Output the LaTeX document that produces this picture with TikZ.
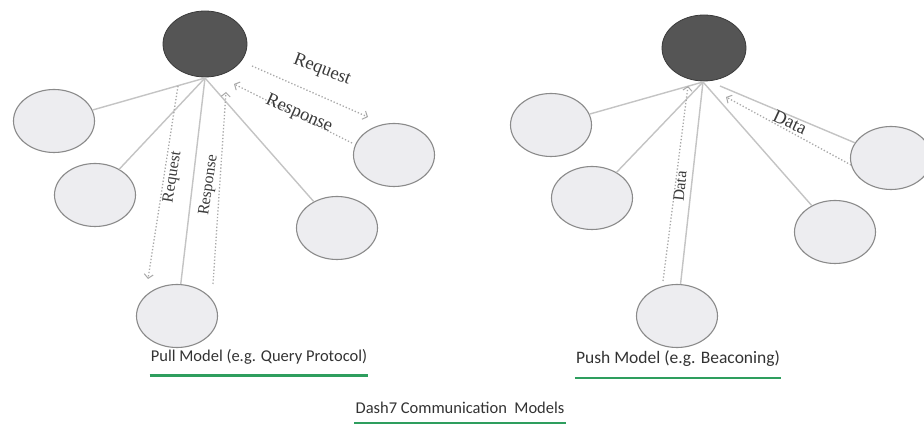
\documentclass[tikz,border=0pt]{standalone}
\usepackage{fontspec}
\setmainfont{Carlito}
\newfontfamily\lblfont{Liberation Serif}
\usetikzlibrary{shapes.geometric,arrows.meta}
\definecolor{hubfill}{HTML}{555555}
\definecolor{hubline}{HTML}{3A3A3A}
\definecolor{leaffill}{HTML}{EDEDF0}
\definecolor{leafline}{HTML}{8A8A8A}
\definecolor{linkgray}{HTML}{C4C4C4}
\definecolor{dotgray}{HTML}{A8A8A8}
\definecolor{lblgray}{HTML}{3A3A3A}
\definecolor{capgray}{HTML}{333333}
\definecolor{ugreen}{HTML}{2E9E5E}
\tikzset{
  hub/.style={ellipse, draw=hubline, fill=hubfill, line width=0.8pt, minimum width=84pt, minimum height=66pt, inner sep=0pt},
  leaf/.style={ellipse, draw=leafline, fill=leaffill, line width=1.1pt, minimum width=81pt, minimum height=63pt, inner sep=0pt},
  link/.style={draw=linkgray, line width=1.4pt},
  msg/.style={draw=dotgray, line width=1.3pt, dotted, -{Straight Barb[length=4pt,width=9pt,line width=1pt]}},
  lbl/.style={font=\lblfont\fontsize{16}{16}\selectfont, text=lblgray, inner sep=0pt},
  biglbl/.style={lbl, font=\lblfont\fontsize{18.5}{18}\selectfont},
  captext/.style={font=\fontsize{16.5}{18}\selectfont, text=capgray, inner sep=1pt},
  uline/.style={draw=ugreen, line width=2.4pt}
}
\begin{document}
\begin{tikzpicture}[x=1pt,y=-1pt]
\useasboundingbox (0,0) rectangle (924,435);
\fill[white] (0,0) rectangle (924,435);
% ---------- Pull model ----------
\node[hub] (h1) at (205,44) {};
\node[leaf] (a1) at (54,121) {};
\node[leaf] (a2) at (95,195) {};
\node[leaf] (a3) at (177,316) {};
\node[leaf] (a4) at (337,228) {};
\node[leaf] (a5) at (394,155) {};
\coordinate (h1b) at (205,78);
\draw[link] (h1b) -- (a1);
\draw[link] (h1b) -- (a2);
\draw[link] (h1b) -- (a3);
\draw[link] (h1b) -- (a4);
% vertical messages
\coordinate (rqv1) at (178,86);
\coordinate (rqv2) at (148,279);
\draw[msg] (rqv1) -- (rqv2);
\coordinate (rsv1) at (213,284);
\coordinate (rsv2) at (226,92);
\draw[msg] (rsv1) -- (rsv2);
\node[lbl, rotate=81] (lrqv) at (173,177) {Request};
\node[lbl, rotate=82] (lrsv) at (209,185) {Response};
% slanted messages
\coordinate (rqh1) at (252,66);
\coordinate (rqh2) at (368,117);
\draw[msg] (rqh1) -- (rqh2);
\coordinate (rsh1) at (352,143);
\coordinate (rsh2) at (234,84);
\draw[msg] (rsh1) -- (rsh2);
\node[biglbl, rotate=-21] (lrqh) at (322,70) {Request};
\node[biglbl, rotate=-24] (lrsh) at (299,114) {Response};
% caption
\node[captext] (cap1) at (259,357) {Pull Model (e.g. Query Protocol)};
\draw[uline] ([yshift=-10pt]cap1.south west) -- ([yshift=-10pt]cap1.south east);
% ---------- Push model ----------
\node[hub] (h2) at (704,48) {};
\node[leaf] (b1) at (551,125) {};
\node[leaf] (b2) at (592,198) {};
\node[leaf] (b3) at (677,316) {};
\node[leaf] (b4) at (835,232) {};
\node[leaf] (b5) at (891,158) {};
\coordinate (h2b) at (703,82);
\draw[link] (h2b) -- (b1);
\draw[link] (h2b) -- (b2);
\draw[link] (h2b) -- (b3);
\draw[link] (h2b) -- (b4);
\coordinate (h2r) at (720,86);
\draw[link] (h2r) -- (b5);
\coordinate (dv1) at (663,281);
\coordinate (dv2) at (688,86);
\draw[msg] (dv1) -- (dv2);
\node[lbl, rotate=84] (ldv) at (680,186) {Data};
\coordinate (dh1) at (851,165);
\coordinate (dh2) at (726,97);
\draw[msg] (dh1) -- (dh2);
\node[biglbl, rotate=-25] (ldh) at (790,122) {Data};
\node[captext, font=\fontsize{17.5}{19}\selectfont] (cap2) at (678,359) {Push Model (e.g. Beaconing)};
\draw[uline] ([yshift=-10pt]cap2.south west) -- ([yshift=-10pt]cap2.south east);
% ---------- Title ----------
\node[captext] (title) at (460,408) {Dash7 Communication\ \ Models};
\draw[uline] ([yshift=-8pt]title.south west) -- ([yshift=-8pt]title.south east);
\end{tikzpicture}
\end{document}
